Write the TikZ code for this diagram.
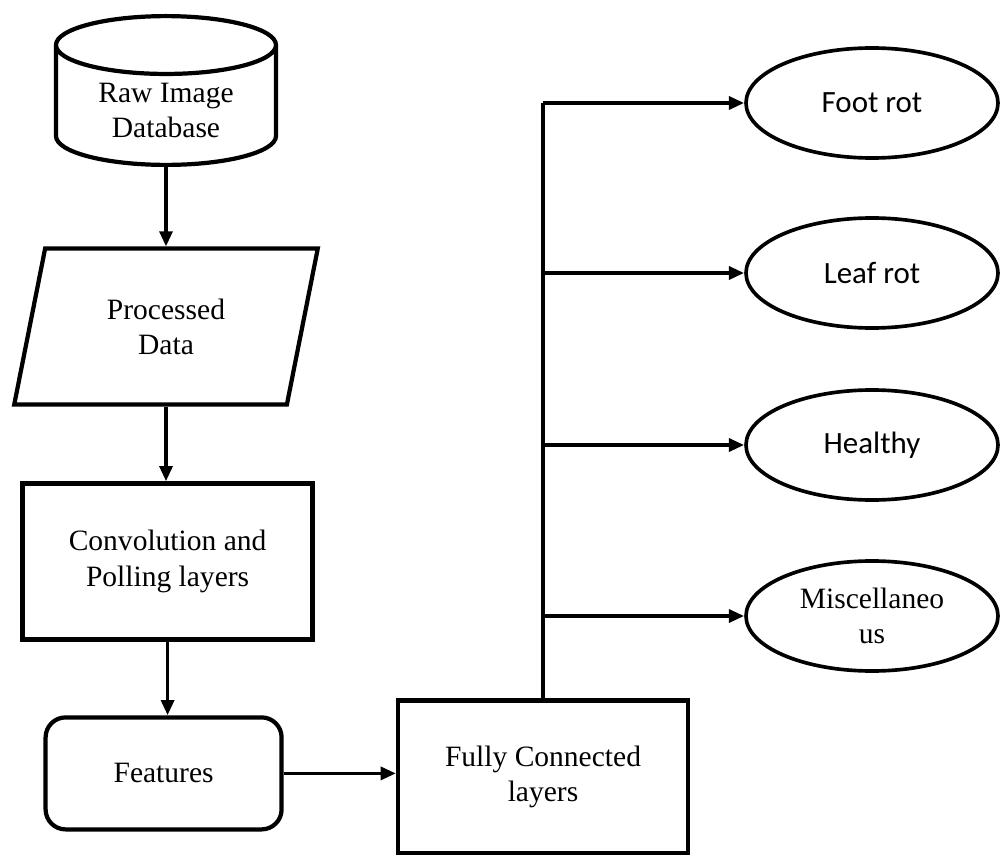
\documentclass[tikz,border=0pt]{standalone}
\usepackage{fontspec}
\setmainfont{Liberation Serif}
\newfontfamily\sansfnt{Carlito}
\usetikzlibrary{shapes.geometric,arrows.meta}

\tikzset{
  box/.style={draw, line width=3pt, align=center, font=\fontsize{21}{25}\selectfont},
  result/.style={draw, ellipse, line width=2.6pt, minimum width=6.3cm, minimum height=2.75cm,
    align=center, font=\fontsize{21}{25}\selectfont},
  link/.style={line width=2.6pt, -{Triangle[length=0.38cm,width=0.32cm]}}
}

\begin{document}
\begin{tikzpicture}
  \useasboundingbox (0,0) rectangle (25.15,21.375);

  % Left column
  \node (db) at (4.15,18.62) [box, cylinder, shape border rotate=90, aspect=0.4,
    minimum width=5.5cm, minimum height=3.72cm] {Raw Image\\Database};
  \node (proc) at (4.15,13.21) [box, trapezium, trapezium left angle=76, trapezium right angle=104,
    trapezium stretches=true, minimum width=7.6cm, minimum height=3.9cm] {Processed\\Data};
  \node (conv) at (4.19,7.34) [box, rectangle, minimum width=7.25cm, minimum height=3.9cm]
    {Convolution and\\Polling layers};
  \node (feat) at (4.09,2.04) [box, rectangle, rounded corners=0.5cm,
    minimum width=5.9cm, minimum height=2.8cm] {Features};
  \node (fc) at (13.575,1.96) [box, rectangle, minimum width=7.25cm, minimum height=3.8cm]
    {Fully Connected\\layers};

  % Classes
  \node (foot) at (21.8,18.8) [result] {\sansfnt\fontsize{22}{26}\selectfont Foot rot};
  \node (leaf) at (21.8,14.55) [result] {\sansfnt\fontsize{22}{26}\selectfont Leaf rot};
  \node (healthy) at (21.8,10.25) [result] {\sansfnt\fontsize{22}{26}\selectfont Healthy};
  \node (misc) at (21.8,5.975) [result] {Miscellaneo\\us};

  % Arrows
  \draw[link] (db.south) -- (db.south |- proc.north);
  \draw[link] (proc.south) -- (proc.south |- conv.north);
  \draw[link] (conv.south) -- (conv.south |- feat.north);
  \draw[link] (feat.east) -- (feat.east -| fc.west);

  \draw[line width=2.6pt] (fc.north) -- (fc.north |- foot.west);
  \foreach \c in {foot, leaf, healthy, misc} {
    \draw[link] (fc.north |- \c.west) -- (\c.west);
  }
\end{tikzpicture}
\end{document}
